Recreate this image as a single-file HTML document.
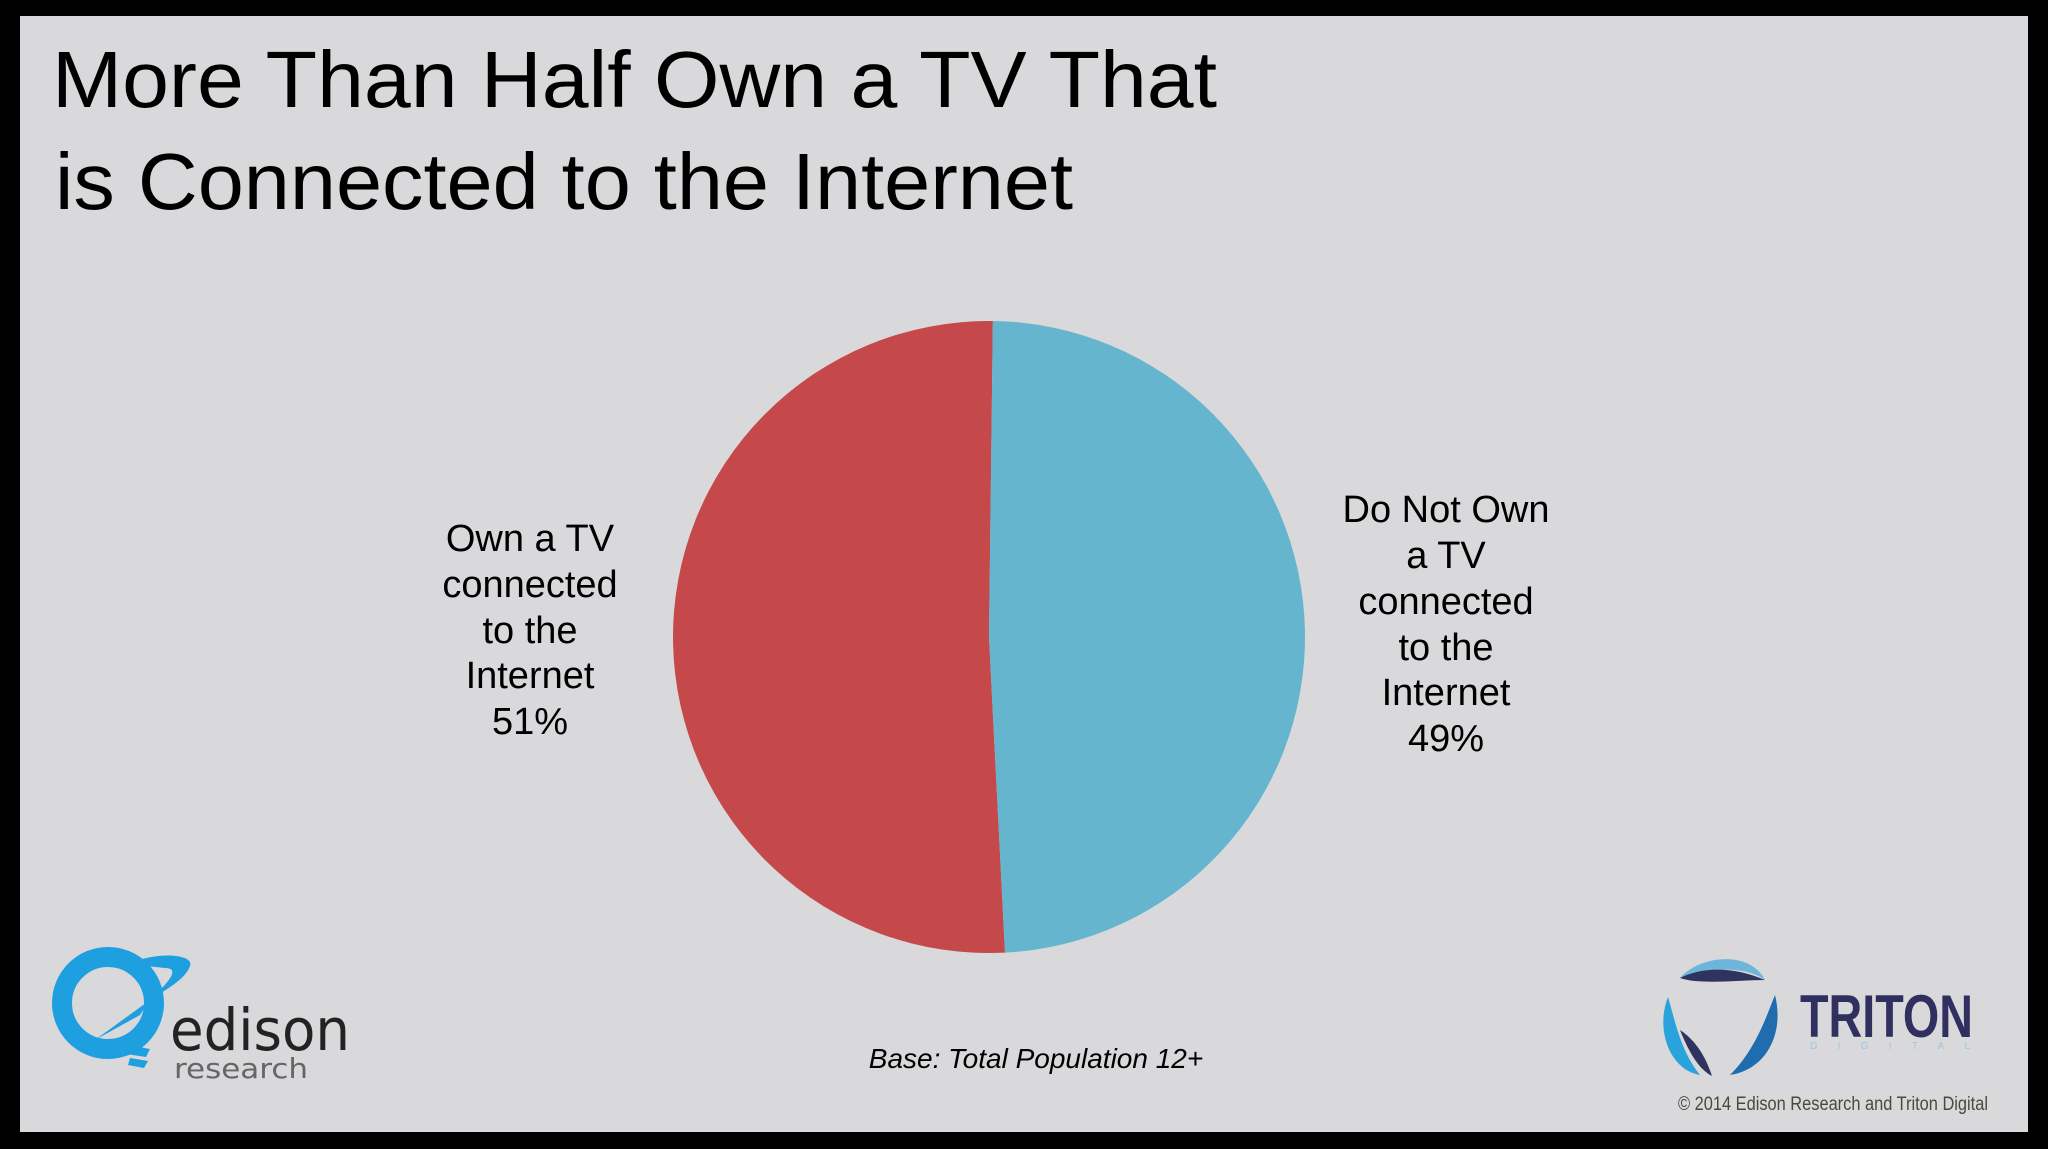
<!DOCTYPE html>
<html><head><meta charset="utf-8"><style>
html,body{margin:0;padding:0;background:#000;}
svg{display:block;}
</style></head><body>
<svg width="2048" height="1149" viewBox="0 0 2048 1149" xmlns="http://www.w3.org/2000/svg">
<rect x="0" y="0" width="2048" height="1149" fill="#000"/>
<rect x="20" y="16" width="2008" height="1116" fill="#d9d8da"/>
<g font-family="Liberation Sans, sans-serif" font-size="80" fill="#000">
<text x="52" y="107" textLength="1165" lengthAdjust="spacingAndGlyphs">More Than Half Own a TV That</text>
<text x="55" y="209" textLength="1018" lengthAdjust="spacingAndGlyphs">is Connected to the Internet</text>
</g>
<g id="pie"></g>
<g font-family="Liberation Sans, sans-serif" font-size="38" fill="#000" text-anchor="middle">
<text>
<tspan x="530" y="551">Own a TV</tspan><tspan x="530" y="597">connected</tspan><tspan x="530" y="643">to the</tspan><tspan x="530" y="688">Internet</tspan><tspan x="530" y="734">51%</tspan></text>
<text>
<tspan x="1446" y="522">Do Not Own</tspan><tspan x="1446" y="568">a TV</tspan><tspan x="1446" y="614">connected</tspan><tspan x="1446" y="660">to the</tspan><tspan x="1446" y="705">Internet</tspan><tspan x="1446" y="751">49%</tspan></text>
</g>
<text x="1036" y="1068" text-anchor="middle" font-family="Liberation Sans, sans-serif" font-style="italic" font-size="28" fill="#000">Base: Total Population 12+</text>
<text x="1678" y="1110" font-family="Liberation Sans, sans-serif" font-size="19" fill="#4a4a3a" textLength="310" lengthAdjust="spacingAndGlyphs">© 2014 Edison Research and Triton Digital</text>
<g>
<circle cx="108" cy="1003" r="46" fill="none" stroke="#1ea0e0" stroke-width="20"/>
<path d="M128 964 C160 950 195 955 190 966 C185 980 165 990 150 1000 L160 990 C172 978 178 968 165 968 Z" fill="#1ea0e0"/>
<path d="M95 1040 L150 1000 L140 1015 Z" fill="#1ea0e0"/>
<path d="M128 1045 l22 4 l-4 8 l-20 -3 z M130 1058 l18 3 l-4 7 l-16 -3 z" fill="#1ea0e0"/>
<text x="170" y="1050" font-family="DejaVu Sans, sans-serif" font-size="58" fill="#222" textLength="180" lengthAdjust="spacingAndGlyphs">edison</text>
<text x="174" y="1078" font-family="DejaVu Sans, sans-serif" font-size="28" fill="#666" textLength="134" lengthAdjust="spacingAndGlyphs">research</text>
</g>
<g>
<path d="M1680 978 C1700 955 1750 950 1765 980 C1745 965 1705 968 1680 978 Z" fill="#6db6da"/>
<path d="M1680 978 C1700 968 1730 965 1765 980 C1740 980 1700 985 1680 978 Z" fill="#2f3360"/>
<path d="M1668 997 C1655 1030 1670 1070 1700 1075 C1680 1050 1675 1020 1668 997 Z" fill="#2aa3dc"/>
<path d="M1680 1030 C1690 1055 1700 1070 1712 1076 C1705 1055 1695 1040 1680 1030 Z" fill="#2f3360"/>
<path d="M1775 995 C1785 1035 1765 1070 1730 1075 C1755 1050 1765 1020 1775 995 Z" fill="#1f6cae"/>
<text x="1800" y="1037" font-family="Liberation Sans, sans-serif" font-weight="bold" font-size="60" fill="#2f3060" textLength="173" lengthAdjust="spacingAndGlyphs">TRITON</text>
<text x="1810" y="1049" font-family="Liberation Sans, sans-serif" font-size="10" fill="#9cc8e0" textLength="160" lengthAdjust="spacing">DIGITAL</text>
</g>
</svg>
<script>
var categories = ['Own a TV connected to the Internet', 'Do Not Own a TV connected to the Internet'];
var values = [51, 49];
var colors = ['#c5484a', '#65b5cf'];
var g = document.getElementById('pie');
var cx = 989, cy = 637, r = 316;
var total = values.reduce(function(a,b){return a+b;},0);
var start = 0.7 - 360 * values[0] / total;
var ns = 'http://www.w3.org/2000/svg';
function pt(a){ var rad = a*Math.PI/180; return [cx + r*Math.sin(rad), cy - r*Math.cos(rad)]; }
var ang = start;
for (var i=0;i<values.length;i++){
  var sweep = 360*values[i]/total;
  var p1 = pt(ang), p2 = pt(ang+sweep);
  var d = 'M'+cx+' '+cy+' L'+p1[0]+' '+p1[1]+' A'+r+' '+r+' 0 '+(sweep>180?1:0)+' 1 '+p2[0]+' '+p2[1]+' Z';
  var path = document.createElementNS(ns,'path');
  path.setAttribute('d', d);
  path.setAttribute('fill', colors[i]);
  
  
  g.appendChild(path);
  ang += sweep;
}
</script>
</body></html>
